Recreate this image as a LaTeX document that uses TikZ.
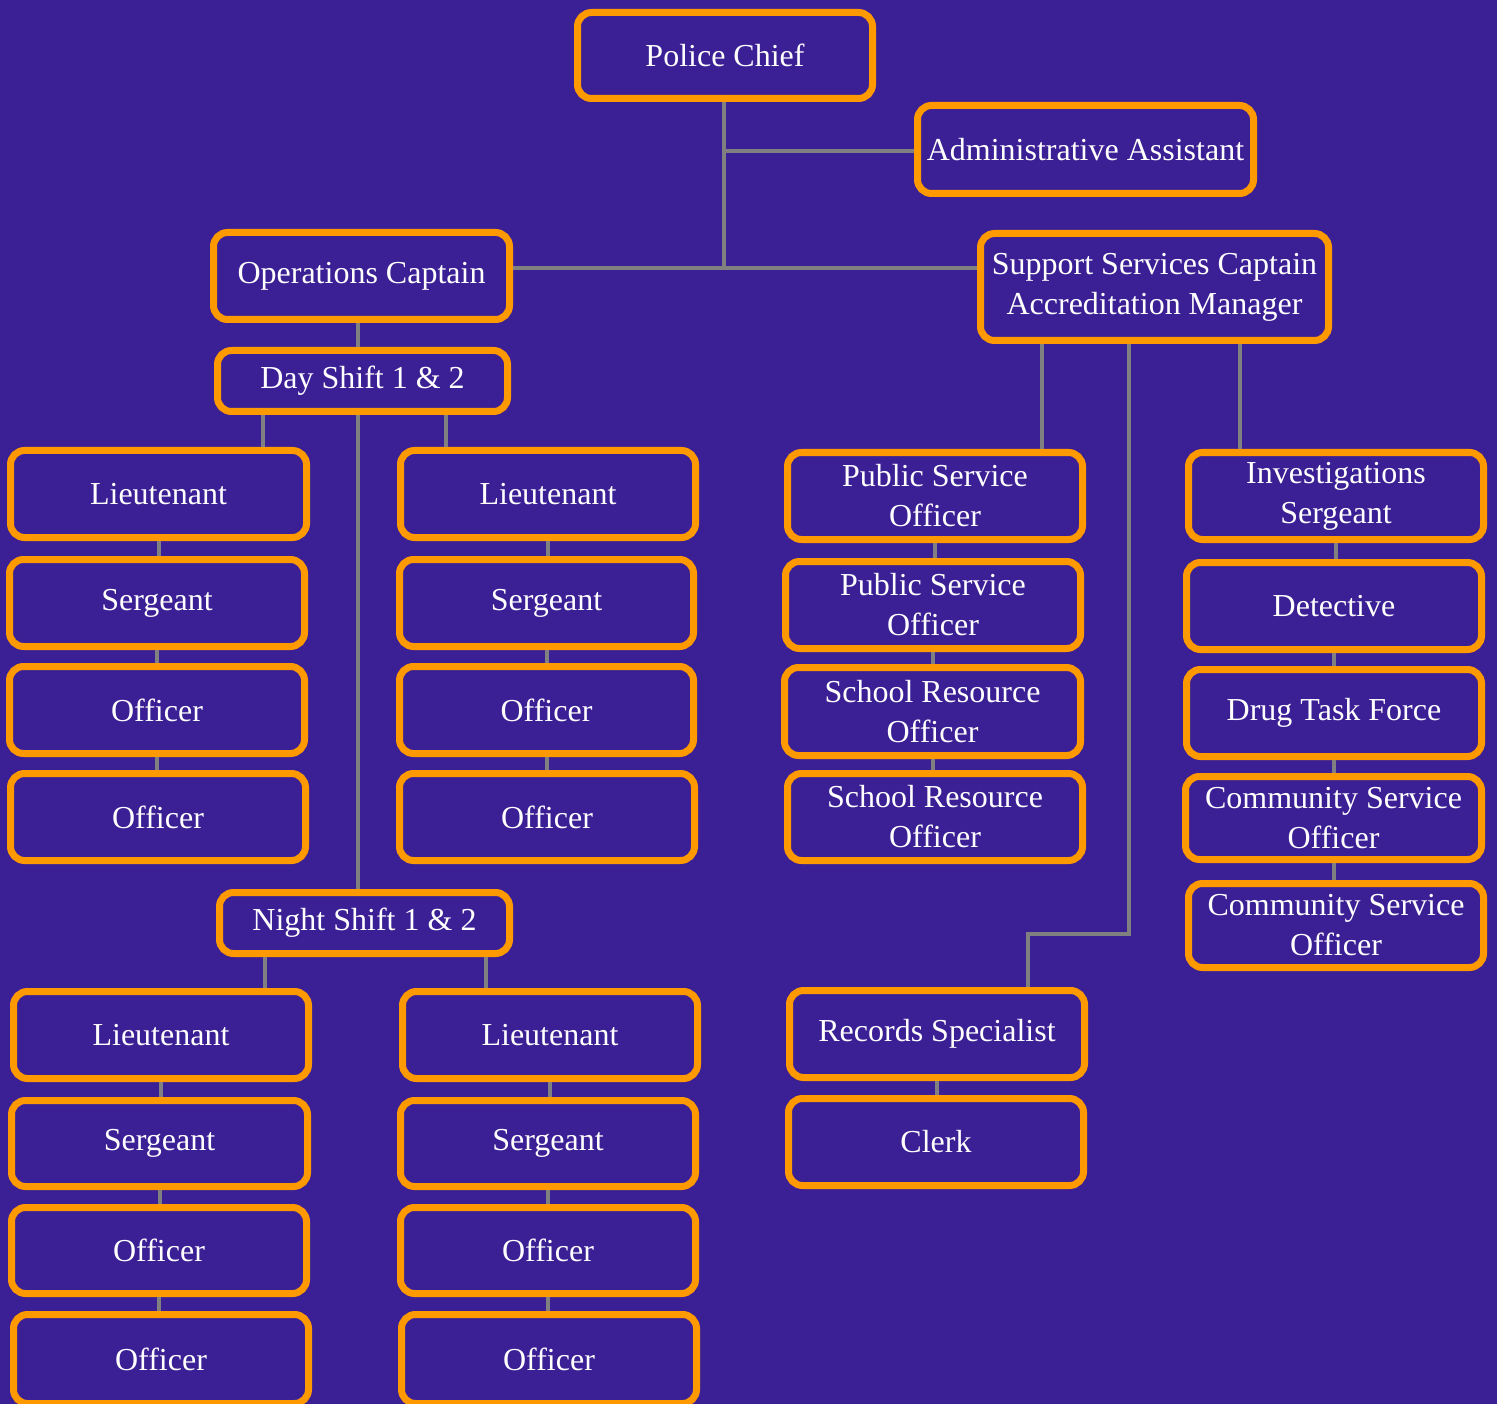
\documentclass[tikz,border=0pt]{standalone}
\usepackage{fontspec}
\setmainfont{Liberation Serif}
\definecolor{bgc}{HTML}{3B1F94}
\definecolor{orc}{HTML}{FF9900}
\definecolor{lnc}{HTML}{808080}
\newcommand\orgbox[6]{%
  \pgfmathsetmacro\bw{#4-#2-3}\pgfmathsetmacro\bh{#5-#3-3}%
  \node[box,minimum width=\bw pt,minimum height=\bh pt] (#1) at ({(#2+#4)/2},{(#3+#5)/2}) {#6};}
\begin{document}
\begin{tikzpicture}[x=1pt,y=-1pt,
  box/.style={draw=orc,line width=7pt,rounded corners=14pt,fill=bgc,text=white,
    font=\fontsize{32}{40}\selectfont,align=center,inner sep=0pt},
  conn/.style={draw=lnc,line width=4pt}]
\fill[bgc] (0,0) rectangle (1497,1404);
\useasboundingbox (0,0) rectangle (1497,1404);
\begin{scope}
\clip (0,0) rectangle (1497,1404);
\orgbox{chief}{576}{11}{874}{100}{Police Chief}
\orgbox{admin}{916}{104}{1255}{195}{Administrative Assistant}
\orgbox{ops}{212}{231}{511}{321}{Operations Captain}
\orgbox{sup}{979}{232}{1330}{342}{Support Services Captain\\Accreditation Manager}
\orgbox{day}{216}{349}{509}{413}{Day Shift 1 \& 2}
\orgbox{dla}{9}{449}{308}{539}{Lieutenant}
\orgbox{dlb}{8}{558}{306}{648}{Sergeant}
\orgbox{dlc}{8}{665}{306}{755}{Officer}
\orgbox{dld}{9}{772}{307}{862}{Officer}
\orgbox{dra}{399}{449}{697}{539}{Lieutenant}
\orgbox{drb}{398}{558}{695}{648}{Sergeant}
\orgbox{drc}{398}{665}{695}{755}{Officer}
\orgbox{drd}{398}{772}{696}{862}{Officer}
\orgbox{night}{218}{891}{511}{955}{Night Shift 1 \& 2}
\orgbox{nla}{12}{990}{310}{1080}{Lieutenant}
\orgbox{nlb}{10}{1099}{309}{1188}{Sergeant}
\orgbox{nlc}{10}{1206}{308}{1295}{Officer}
\orgbox{nld}{12}{1313}{310}{1405}{Officer}
\orgbox{nra}{401}{990}{699}{1080}{Lieutenant}
\orgbox{nrb}{399}{1099}{697}{1188}{Sergeant}
\orgbox{nrc}{399}{1206}{697}{1295}{Officer}
\orgbox{nrd}{400}{1313}{698}{1405}{Officer}
\orgbox{pa}{786}{451}{1084}{541}{Public Service\\Officer}
\orgbox{pb}{784}{560}{1082}{650}{Public Service\\Officer}
\orgbox{pc}{783}{666}{1082}{757}{School Resource\\Officer}
\orgbox{pd}{786}{772}{1084}{862}{School Resource\\Officer}
\orgbox{ia}{1187}{451}{1485}{541}{Investigations\\Sergeant}
\orgbox{ib}{1185}{561}{1483}{651}{Detective}
\orgbox{ic}{1185}{668}{1483}{758}{Drug Task Force}
\orgbox{id}{1184}{775}{1483}{861}{Community Service\\Officer}
\orgbox{ie}{1187}{882}{1485}{969}{Community Service\\Officer}
\orgbox{ra}{788}{989}{1086}{1079}{Records Specialist}
\orgbox{rb}{787}{1097}{1085}{1187}{Clerk}
\end{scope}
\coordinate (j0) at (724,151);
\coordinate (j1) at (724,268);
\coordinate (xo) at (358,0);
\coordinate (xa) at (263,0);
\coordinate (xb) at (446,0);
\coordinate (xc) at (265,0);
\coordinate (xd) at (486,0);
\coordinate (xe) at (1042,0);
\coordinate (xf) at (1240,0);
\coordinate (ka) at (1129,934);
\coordinate (kb) at (1028,934);
\draw[conn] (chief.south -| j1) -- (j1);
\draw[conn] (j0) -- (admin.west |- j0);
\draw[conn] (ops.east |- j1) -- (sup.west |- j1);
\draw[conn] (ops.south -| xo) -- (day.north -| xo);
\draw[conn] (day.south -| xa) -- (dla.north -| xa);
\draw[conn] (day.south -| xb) -- (dra.north -| xb);
\draw[conn] (day.south -| xo) -- (night.north -| xo);
\draw[conn] (night.south -| xc) -- (nla.north -| xc);
\draw[conn] (night.south -| xd) -- (nra.north -| xd);
\draw[conn] (sup.south -| xe) -- (pa.north -| xe);
\draw[conn] (sup.south -| xf) -- (ia.north -| xf);
\draw[conn] (sup.south -| ka) -- (ka) -- (kb) -- (ra.north -| kb);
\foreach \a/\b in {dla/dlb,dlb/dlc,dlc/dld,dra/drb,drb/drc,drc/drd,
  nla/nlb,nlb/nlc,nlc/nld,nra/nrb,nrb/nrc,nrc/nrd,
  pa/pb,pb/pc,pc/pd,ia/ib,ib/ic,ic/id,id/ie,ra/rb}
  \draw[conn] (\a.south) -- (\a.south |- \b.north);
\end{tikzpicture}
\end{document}
